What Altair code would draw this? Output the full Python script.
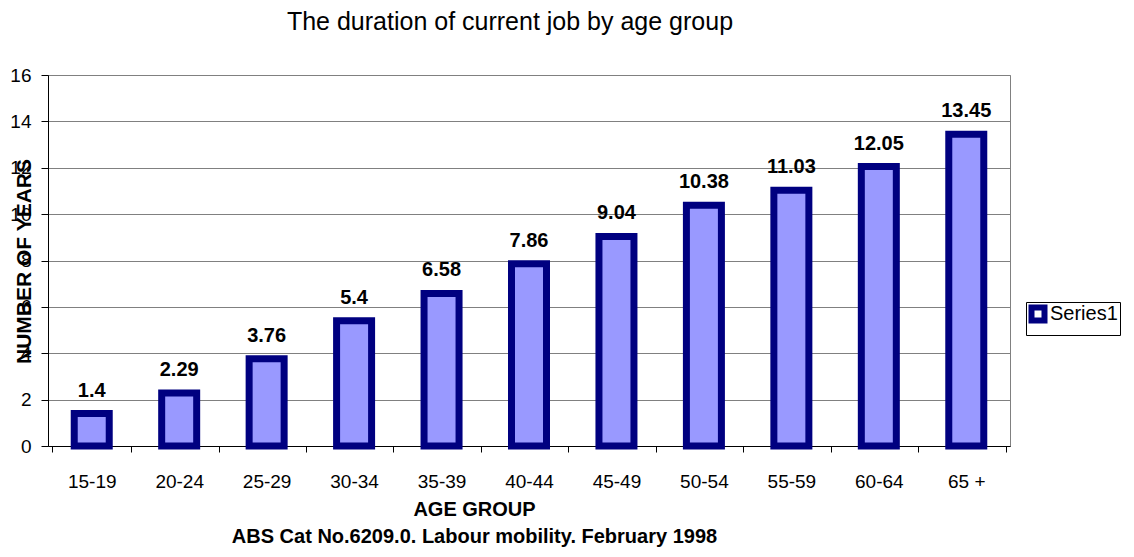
import altair as alt
import pandas as pd

categories = ["15-19", "20-24", "25-29", "30-34", "35-39", "40-44", "45-49", "50-54", "55-59", "60-64", "65 +"]
values = [1.4, 2.29, 3.76, 5.4, 6.58, 7.86, 9.04, 10.38, 11.03, 12.05, 13.45]
series = ["Series1"] * len(categories)
y_ticks = [0, 2, 4, 6, 8, 10, 12, 14, 16]

df = pd.DataFrame({"age": categories, "years": values, "series": series})

FONT = "Liberation Sans"

x = alt.X("age:N", sort=categories,
          axis=alt.Axis(title=["AGE GROUP", "ABS Cat No.6209.0. Labour mobility. February 1998"],
                        titleFontWeight="bold", titleFontSize=20, titleLineHeight=27,
                        titleX=426, titleY=69, titleAnchor="middle", titleAlign="center",
                        titleBaseline="alphabetic",
                        labelAngle=0, labelFontSize=19, labelPadding=20, tickSize=6,
                        tickBand="extent", domainColor="black", tickColor="black",
                        labelColor="black", titleColor="black", grid=False))
y = alt.Y("years:Q", scale=alt.Scale(domain=[0, 16], nice=False),
          axis=alt.Axis(values=y_ticks, title="NUMBER OF YEARS", titleFontWeight="bold",
                        titleFontSize=21, titleAngle=270, titleX=-24, titleY=186,
                        titleAlign="center", titleBaseline="middle",
                        labelFontSize=19, labelPadding=10, tickSize=7,
                        grid=True, gridColor="#808080", gridOpacity=1,
                        domainColor="black", tickColor="black", labelColor="black",
                        titleColor="black"))

fill_bars = alt.Chart(df).mark_bar(size=35, fill="#9999FF").encode(x=x, y=y)

stroke_bars = alt.Chart(df).mark_bar(size=35, filled=False, strokeWidth=7).encode(
    x=alt.X("age:N", sort=categories), y="years:Q",
    stroke=alt.Stroke("series:N", scale=alt.Scale(range=["#000080"]),
                      legend=alt.Legend(title=None, orient="none", legendX=978, legendY=227,
                                        symbolType="square", symbolSize=169,
                                        symbolStrokeWidth=6, symbolFillColor="white",
                                        labelFontSize=20, labelColor="black", labelFont=FONT,
                                        labelOffset=2,
                                        strokeColor="black", fillColor="white", padding=2,
                                        cornerRadius=0))
)

labels = alt.Chart(df).mark_text(dy=-17, baseline="alphabetic", fontWeight="bold",
                                  fontSize=20, font=FONT, color="black").encode(
    x=alt.X("age:N", sort=categories), y="years:Q", text=alt.Text("years:Q")
)

chart = alt.layer(fill_bars, stroke_bars, labels).properties(
    width=962, height=371,
    title=alt.TitleParams("The duration of current job by age group", fontSize=25,
                          fontWeight="normal", font=FONT, color="black", anchor="middle",
                          dx=-19, offset=31),
    autosize=alt.AutoSizeParams(type="none"),
    padding={"left": 40, "top": 67, "right": 116, "bottom": 103},
).configure(font=FONT).configure_view(stroke="#808080", strokeWidth=1).configure_axis(
    labelFont=FONT, titleFont=FONT
)

chart.save("out.html", embed_options={"renderer": "svg", "actions": False})
